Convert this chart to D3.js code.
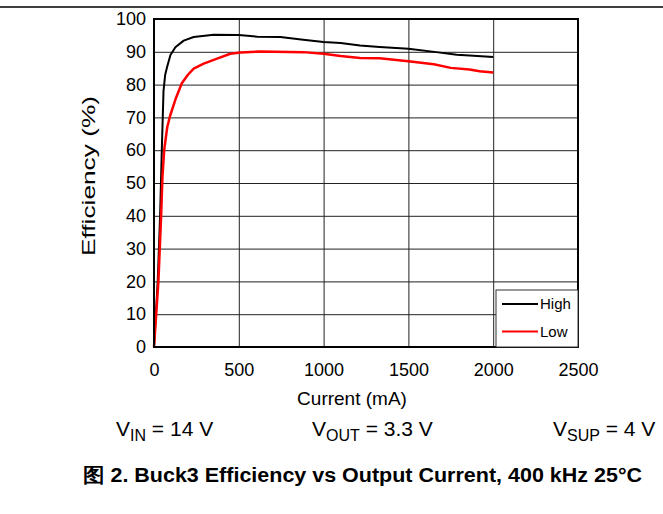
<!DOCTYPE html>
<html lang="zh">
<head>
	<meta charset="UTF-8">
	<title>Buck3 Efficiency</title>
	<style>
		body { margin: 0; background: #fff; }
		text { font-family: "Liberation Sans", Arial, sans-serif; fill: #000; }
		.grid line { stroke: #222; stroke-width: 1px; }
		.grid path { stroke-width: 0; }
		.line { fill: none; stroke-linejoin: round; }
	</style>
	<script src="https://cdn.jsdelivr.net/npm/d3@7"></script>
</head>
<body>
	<div class="wrap"></div>
	<script>
	// 数据：电流 (mA) 与效率 (%)
	var highCurrent = [0, 22, 36, 46, 56, 66, 78, 97, 126, 175, 234, 352, 500, 610, 745, 880, 1000, 1100, 1215, 1330, 1500, 1665, 1785, 1860, 2000];
	var highEff     = [0, 20, 40, 60, 78, 83, 85.5, 89, 91.4, 93.4, 94.5, 95.2, 95.1, 94.6, 94.5, 93.7, 93.0, 92.7, 91.9, 91.5, 90.9, 89.9, 89.1, 88.9, 88.4];
	var lowCurrent  = [0, 26, 42, 50, 60, 78, 95, 130, 164, 200, 234, 293, 372, 450, 510, 625, 880, 1000, 1100, 1215, 1330, 1500, 1650, 1750, 1860, 1920, 2000];
	var lowEff      = [0, 20, 40, 52, 60, 67, 70.5, 76, 80.4, 83, 84.9, 86.4, 87.9, 89.4, 89.8, 90.1, 89.9, 89.4, 88.7, 88.1, 88.0, 87.1, 86.2, 85.1, 84.6, 84.1, 83.7];
	var xTicks = [0, 500, 1000, 1500, 2000, 2500];
	var yTicks = [0, 10, 20, 30, 40, 50, 60, 70, 80, 90, 100];
	var seriesNames = ["High", "Low"];
	var seriesColors = ["#000000", "#ff0000"];

	var W = 663, H = 514;
	var margin = {top: 19, left: 154},
		width = 578 - 154,
		height = 347 - 19;

	var svg = d3.select(".wrap").append("svg")
		.attr("width", W)
		.attr("height", H);

	// 顶部分隔线
	svg.append("line")
		.attr("x1", 0).attr("x2", W)
		.attr("y1", 7).attr("y2", 7)
		.attr("stroke", "#000")
		.attr("stroke-width", 1.5);

	var g = svg.append("g")
		.attr("transform", "translate(" + margin.left + "," + margin.top + ")");

	var x = d3.scaleLinear().domain([0, 2500]).range([0, width]);
	var y = d3.scaleLinear().domain([0, 100]).range([height, 0]);

	// grid
	g.append("g")
		.attr("class", "grid")
		.attr("transform", "translate(0," + height + ")")
		.call(d3.axisBottom(x).tickValues(xTicks).tickSize(-height).tickFormat(""));
	g.append("g")
		.attr("class", "grid")
		.call(d3.axisLeft(y).tickValues(yTicks).tickSize(-width).tickFormat(""));

	// axes labels
	var xAxis = g.append("g")
		.attr("transform", "translate(0," + height + ")")
		.call(d3.axisBottom(x).tickValues(xTicks).tickSize(0).tickPadding(16).tickFormat(d3.format("d")));
	var yAxis = g.append("g")
		.call(d3.axisLeft(y).tickValues(yTicks).tickSize(0).tickPadding(8).tickFormat(d3.format("d")));
	[xAxis, yAxis].forEach(function(a) {
		a.select(".domain").remove();
		a.selectAll("text")
			.style("font-family", '"Liberation Sans", Arial, sans-serif')
			.style("font-size", "18px")
			.attr("fill", "#000");
	});

	// lines
	function toPoints(xs, ys) {
		return xs.map(function(v, i) { return [v, ys[i]]; });
	}
	var series = [toPoints(highCurrent, highEff), toPoints(lowCurrent, lowEff)];
	var valline = d3.line()
		.x(function(d) { return x(d[0]); })
		.y(function(d) { return y(d[1]); });

	g.selectAll("path.line").data(series).enter().append("path")
		.attr("class", "line")
		.attr("stroke", function(d, i) { return seriesColors[i]; })
		.attr("stroke-width", function(d, i) { return i === 0 ? 2 : 2.5; })
		.attr("d", valline);

	// plot border
	g.append("rect")
		.attr("width", width).attr("height", height)
		.attr("fill", "none")
		.attr("stroke", "#000")
		.attr("stroke-width", 2);

	// legend
	var lg = g.append("g")
		.attr("transform", "translate(" + (width - 82) + "," + (height - 57) + ")");
	lg.append("rect")
		.attr("width", 82).attr("height", 57)
		.attr("fill", "#fff")
		.attr("stroke", "#333")
		.attr("stroke-width", 1);
	seriesNames.forEach(function(name, i) {
		lg.append("line")
			.attr("x1", 6).attr("x2", 42)
			.attr("y1", 14 + i * 27.5).attr("y2", 14 + i * 27.5)
			.attr("stroke", seriesColors[i])
			.attr("stroke-width", 2);
		lg.append("text")
			.attr("x", 44).attr("y", 14 + i * 27.5)
			.attr("dy", "0.35em")
			.style("font-size", "15px")
			.text(name);
	});

	// axis titles
	svg.append("text")
		.attr("x", 352).attr("y", 398)
		.attr("dy", "0.35em")
		.attr("text-anchor", "middle")
		.style("font-size", "19px")
		.text("Current (mA)");
	svg.append("text")
		.attr("transform", "translate(89,176) rotate(-90)")
		.attr("dy", "0.35em")
		.attr("text-anchor", "middle")
		.attr("textLength", 160)
		.attr("lengthAdjust", "spacingAndGlyphs")
		.style("font-size", "18px")
		.text("Efficiency (%)");

	// 条件
	var conds = [["V", "IN", " = 14 V", 116], ["V", "OUT", " = 3.3 V", 312], ["V", "SUP", " = 4 V", 553]];
	conds.forEach(function(c) {
		var t = svg.append("text")
			.attr("x", c[3]).attr("y", 436)
			.style("font-size", "21px");
		t.append("tspan").text(c[0]);
		t.append("tspan").attr("dy", 5).style("font-size", "16px").text(c[1]);
		t.append("tspan").attr("dy", -5).text(c[2]);
	});

	// 图标题
	svg.append("text")
		.attr("x", 83).attr("y", 482)
		.attr("textLength", 559)
		.attr("lengthAdjust", "spacingAndGlyphs")
		.style("font-size", "20px")
		.style("font-weight", "bold")
		.text("图 2. Buck3 Efficiency vs Output Current, 400 kHz 25°C");
	</script>
</body>
</html>
